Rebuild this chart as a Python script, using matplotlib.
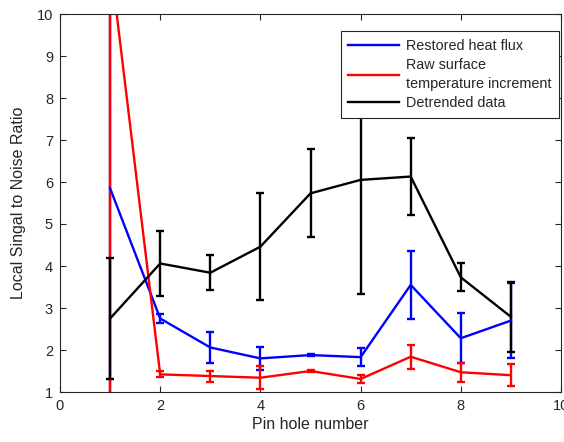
import matplotlib.pyplot as plt

plt.rcParams['font.family'] = ['Liberation Sans', 'DejaVu Sans']

pins = [1, 2, 3, 4, 5, 6, 7, 8, 9]

# Restored heat flux
heat_flux = [5.85, 2.75, 2.06, 1.80, 1.88, 1.83, 3.55, 2.28, 2.70]
heat_flux_err = [6.0, 0.11, 0.38, 0.28, 0.03, 0.22, 0.80, 0.59, 0.90]

# Raw surface temperature increment
raw_temp = [11.3, 1.42, 1.38, 1.34, 1.50, 1.31, 1.84, 1.47, 1.40]
raw_temp_err = [11.0, 0.07, 0.13, 0.28, 0.03, 0.10, 0.29, 0.23, 0.26]

# Detrended data
detrended = [2.75, 4.06, 3.84, 4.46, 5.73, 6.05, 6.13, 3.73, 2.79]
detrended_err = [1.43, 0.78, 0.42, 1.28, 1.05, 2.72, 0.92, 0.33, 0.83]

dark = '#262626'

fig = plt.figure(figsize=(5.64, 4.42), dpi=100)
ax = fig.add_axes([60 / 564, 1 - 392 / 442, 501 / 564, 378 / 442])

ax.errorbar(pins, heat_flux, yerr=heat_flux_err, color='#0000ff', lw=1.7,
            capsize=2.8, capthick=1.7, label='Restored heat flux')
ax.errorbar(pins, raw_temp, yerr=raw_temp_err, color='#ff0000', lw=1.7,
            capsize=2.8, capthick=1.7, label='Raw surface\ntemperature increment')
ax.errorbar(pins, detrended, yerr=detrended_err, color='black', lw=1.7,
            capsize=2.8, capthick=1.7, label='Detrended data')

ax.set_xlim(0, 10)
ax.set_ylim(1, 10)
ax.set_xticks([0, 2, 4, 6, 8, 10])
ax.set_yticks(range(1, 11))
ax.tick_params(direction='in', top=True, right=True, length=4, width=0.8,
               colors=dark, labelsize=10.5, pad=5)
for s in ax.spines.values():
    s.set_color(dark)
    s.set_linewidth(0.8)

ax.set_xlabel('Pin hole number', fontsize=11.5, color=dark, labelpad=3)
ax.set_ylabel('Local Singal to Noise Ratio', fontsize=11.5, color=dark, labelpad=8)

handles, labels = ax.get_legend_handles_labels()
handles = [h[0] for h in handles]
leg = ax.legend(handles, labels, loc='upper right', bbox_to_anchor=(0.996, 0.955),
                fontsize=10.4, frameon=True, fancybox=False, edgecolor=dark,
                borderaxespad=0, handlelength=3.5, handletextpad=0.45,
                labelspacing=0.38, borderpad=0.55, framealpha=1)
leg.get_frame().set_linewidth(0.8)
for t in leg.get_texts():
    t.set_color(dark)
    t.set_linespacing(1.4)
for h in leg.get_lines():
    h.set_linewidth(1.7)

fig.savefig('out.png', dpi=100)
